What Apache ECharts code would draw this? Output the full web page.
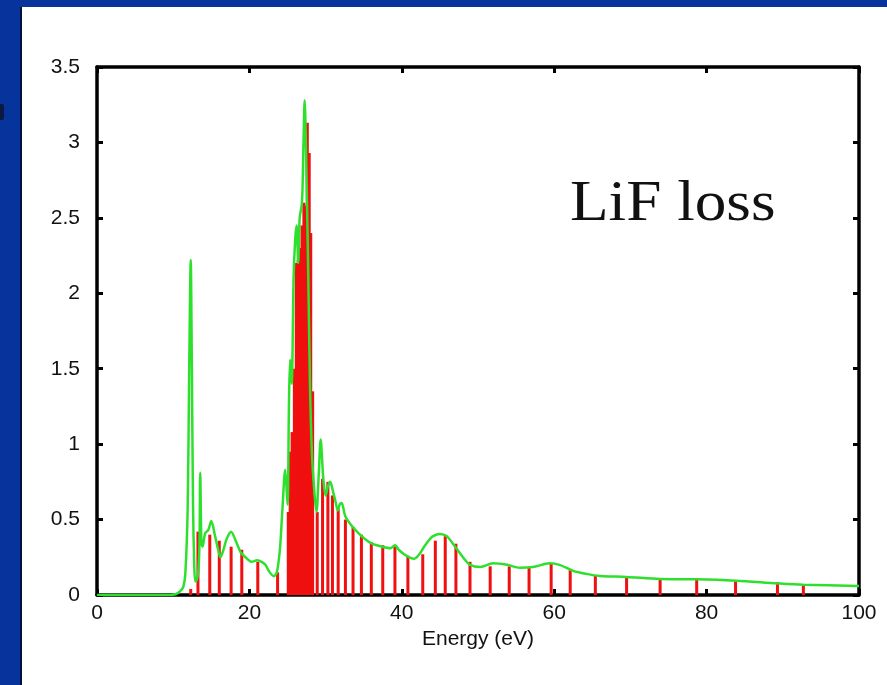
<!DOCTYPE html>
<html>
<head>
<meta charset="utf-8">
<script src="https://cdn.jsdelivr.net/npm/echarts@6/dist/echarts.min.js"></script>
<style>
  html, body { margin: 0; padding: 0; background: #06349c; overflow: hidden; }
  #panel { position: absolute; left: 20px; top: 7px; right: 0; bottom: 0; background: #fff; border-left: 2px solid #00123a; }
  #mark { position: absolute; left: 0; top: 104px; width: 4px; height: 16px; background: #0a1a40; border-radius: 0 2px 2px 0; }
  #chart { position: absolute; left: 0; top: 0; width: 887px; height: 685px; }
</style>
</head>
<body>
<div id="panel"></div>
<div id="mark"></div>
<div id="chart"></div>
<script>
// 坐标轴
const X_TICKS = [0, 20, 40, 60, 80, 100]
const Y_TICKS = [0, 0.5, 1, 1.5, 2, 2.5, 3, 3.5]

// 红色竖线：激发能 (eV) 与强度
const stickE = [12.3, 13.25, 14.8, 16.05, 17.6, 19.0, 21.1, 23.7,
  25.1, 25.35, 25.6, 25.9, 26.15, 26.4, 26.65, 26.9, 27.15, 27.4, 27.6, 27.85, 28.05, 28.3,
  28.9, 29.6, 30.3, 30.9, 31.65, 32.6, 33.6, 34.7, 36.0, 37.5, 39.1, 40.8, 42.75,
  44.4, 45.7, 47.1, 48.95, 51.6, 54.1, 56.7, 59.6, 62.1, 65.4, 69.5, 73.9, 78.7, 83.8, 89.3, 92.7]
const stickV = [0.04, 0.42, 0.40, 0.36, 0.32, 0.30, 0.22, 0.15,
  0.55, 0.95, 1.08, 1.5, 2.2, 2.22, 2.3, 2.45, 2.6, 2.58, 3.13, 2.93, 2.4, 1.35,
  0.55, 0.77, 0.75, 0.66, 0.57, 0.5, 0.45, 0.4, 0.35, 0.33, 0.32, 0.26, 0.27,
  0.36, 0.39, 0.34, 0.22, 0.19, 0.19, 0.18, 0.21, 0.17, 0.13, 0.12, 0.11, 0.105, 0.1, 0.085, 0.073]

// 绿色曲线：展宽后的损失函数
const curveE = [0, 9.5, 10.3, 10.8, 11.3, 11.6, 11.9, 12.1, 12.3, 12.45, 12.6, 12.75, 12.9, 13.1, 13.3, 13.45, 13.55, 13.7, 13.85,
  14.2, 14.6, 15.0, 15.5, 15.9, 16.2, 16.6, 17.0, 17.6, 18.2, 18.9, 19.6, 20.3, 21.0, 21.6, 22.1, 22.6, 23.2, 23.6,
  24.0, 24.3, 24.7, 25.0, 25.2, 25.35, 25.55, 25.8, 26.0, 26.2, 26.4, 26.6, 26.9, 27.1, 27.25, 27.45, 27.7, 27.95,
  28.2, 28.5, 28.8, 29.1, 29.35, 29.7, 30.0, 30.3, 30.6, 31.0, 31.3, 31.6, 31.85, 32.1, 32.6, 33.4, 34.3, 35.2,
  36.1, 37.4, 38.5, 39.1, 39.6, 40.3, 41.0, 41.6, 42.3, 42.8, 43.5, 44.1, 45.0, 45.9, 47.0, 48.1, 48.95, 50.3,
  52.0, 53.8, 55.5, 57.2, 59.4, 60.7, 62.5, 64.2, 66.0, 69.5, 73.9, 78.7, 83.8, 89.3, 92.7, 100]
const curveV = [0, 0, 0.005, 0.02, 0.05, 0.15, 0.58, 1.5, 2.22, 1.5, 0.6, 0.22, 0.09, 0.1, 0.16, 0.35, 0.81, 0.35, 0.32,
  0.41, 0.43, 0.49, 0.39, 0.30, 0.25, 0.3, 0.37, 0.42, 0.36, 0.28, 0.245, 0.22, 0.23, 0.22, 0.2, 0.155, 0.125, 0.15,
  0.3, 0.54, 0.83, 0.6, 1.3, 1.56, 1.4, 2.1, 2.35, 2.45, 2.2, 2.5, 2.6, 3.0, 3.28, 2.9, 2.2, 1.4,
  0.95, 0.7, 0.55, 0.8, 1.03, 0.77, 0.66, 0.72, 0.75, 0.68, 0.62, 0.56, 0.6, 0.61, 0.52, 0.46, 0.41, 0.37,
  0.34, 0.32, 0.31, 0.33, 0.3, 0.27, 0.25, 0.24, 0.27, 0.31, 0.36, 0.39, 0.405, 0.39, 0.32, 0.245, 0.2, 0.185,
  0.21, 0.2, 0.18, 0.185, 0.21, 0.2, 0.16, 0.14, 0.126, 0.12, 0.106, 0.104, 0.095, 0.077, 0.068, 0.06]

const chart = echarts.init(document.getElementById('chart'), null, { renderer: 'canvas' })

const FONT = '"Liberation Sans", Arial, Helvetica, sans-serif'
const frameLine = { show: true, onZero: false, lineStyle: { color: '#000', width: 3.5 } }
const innerTick = { show: true, inside: true, length: 6, lineStyle: { color: '#000', width: 3 } }

chart.setOption({
  animation: false,
  grid: { left: 97, right: 28, top: 67, bottom: 90 },
  xAxis: [{
    type: 'value', position: 'bottom',
    min: X_TICKS[0], max: X_TICKS[X_TICKS.length - 1], interval: 20,
    axisLine: frameLine, axisTick: innerTick, splitLine: { show: false },
    axisLabel: { fontFamily: FONT, fontSize: 21, color: '#111', margin: 8 },
    name: 'Energy (eV)', nameLocation: 'middle', nameGap: 27,
    nameTextStyle: { fontFamily: FONT, fontSize: 21, color: '#111' },
  }, {
    type: 'value', position: 'top',
    min: X_TICKS[0], max: X_TICKS[X_TICKS.length - 1], interval: 20,
    axisLine: frameLine, axisTick: innerTick, axisLabel: { show: false }, splitLine: { show: false },
  }],
  yAxis: [{
    type: 'value', position: 'left',
    min: Y_TICKS[0], max: Y_TICKS[Y_TICKS.length - 1], interval: 0.5,
    axisLine: frameLine, axisTick: innerTick, splitLine: { show: false },
    axisLabel: { fontFamily: FONT, fontSize: 21, color: '#111', margin: 17 },
  }, {
    type: 'value', position: 'right',
    min: Y_TICKS[0], max: Y_TICKS[Y_TICKS.length - 1], interval: 0.5,
    axisLine: frameLine, axisTick: innerTick, axisLabel: { show: false }, splitLine: { show: false },
  }],
  graphic: [{
    type: 'text', x: 570, y: 176, scaleX: 1.09, z: 10,
    style: {
      text: 'LiF loss', font: '58px "Liberation Serif", "Times New Roman", serif',
      fill: '#111', align: 'left', verticalAlign: 'top',
    },
  }],
  series: [{
    name: 'sticks', type: 'bar', xAxisIndex: 0, yAxisIndex: 0,
    barWidth: 3, itemStyle: { color: '#f01010' },
    data: stickE.map((e, i) => [e, stickV[i]]),
    z: 2,
  }, {
    name: 'loss', type: 'line', xAxisIndex: 0, yAxisIndex: 0,
    showSymbol: false, symbol: 'none', smooth: 0.3,
    lineStyle: { color: '#2ee02e', width: 2.5 },
    data: curveE.map((e, i) => [e, curveV[i]]),
    z: 3,
  }],
})
</script>
</body>
</html>
